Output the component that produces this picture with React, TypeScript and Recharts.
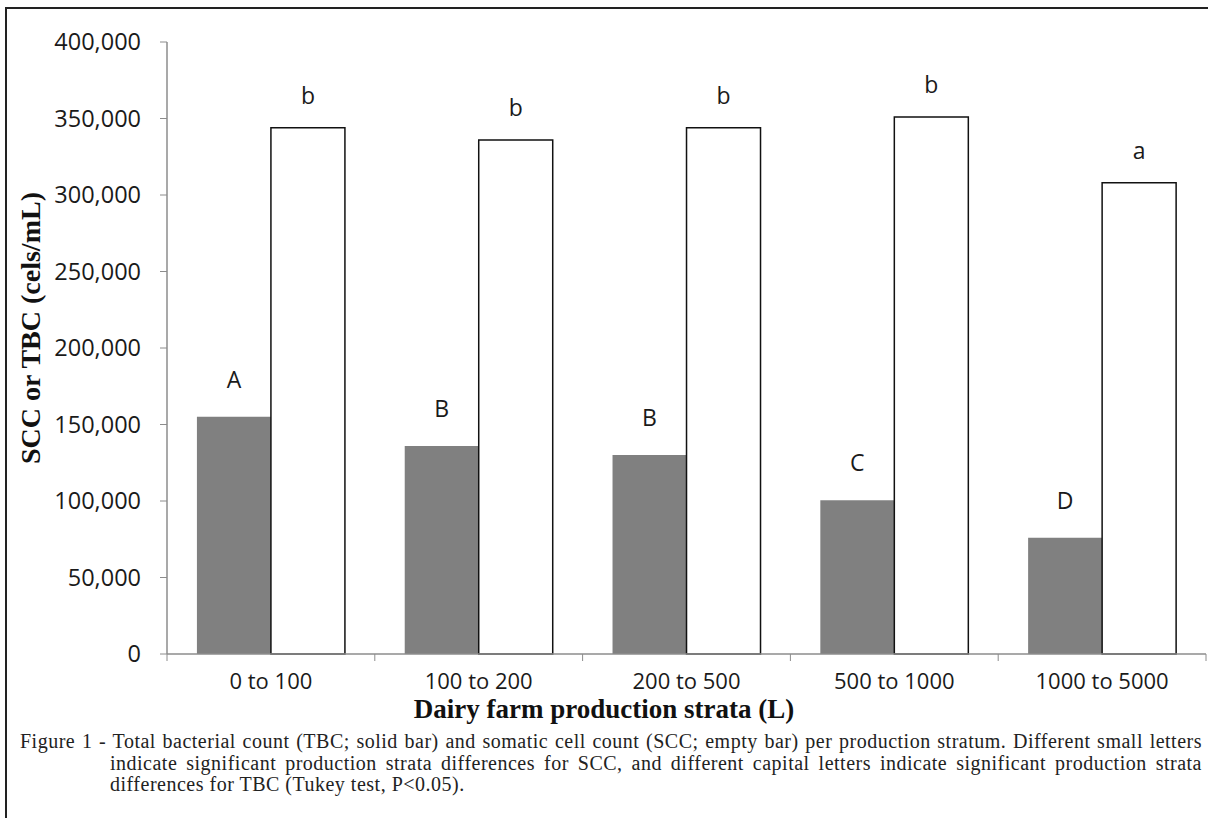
import React from "react";
import { Bar, BarChart, LabelList, XAxis, YAxis } from "recharts";

// strata (L) and mean counts
const strata = ["0 to 100", "100 to 200", "200 to 500", "500 to 1000", "1000 to 5000"];
const tbcValues = [155000, 136000, 130000, 100500, 76000];
const sccValues = [344000, 336000, 344000, 351000, 308000];
const tbcLetters = ["A", "B", "B", "C", "D"];
const sccLetters = ["b", "b", "b", "b", "a"];
const yTicks = [0, 50000, 100000, 150000, 200000, 250000, 300000, 350000, 400000];

const data = strata.map((s, i) => ({
  stratum: s,
  tbc: tbcValues[i],
  scc: sccValues[i],
  tbcLetter: tbcLetters[i],
  sccLetter: sccLetters[i],
}));

const W = 1208;
const H = 700;
const M = { top: 42, right: 2, left: 0, bottom: 0 };
const Y_W = 167;
const X_H = 46;
const PLOT_W = W - M.left - M.right - Y_W;
const PLOT_BOTTOM = H - M.bottom - X_H;
const AXIS = "#8c8c8c";
const SANS = "'Open Sans', sans-serif";
const SERIF = "'Liberation Serif', 'Times New Roman', serif";

// category label plus tick marks on the band edges (Excel style)
function StratumTick(props: any) {
  const { x, payload, index } = props;
  const band = PLOT_W / strata.length;
  const left = x - band / 2;
  const right = x + band / 2;
  return (
    <g>
      <line x1={left} x2={left} y1={PLOT_BOTTOM} y2={PLOT_BOTTOM + 7} stroke={AXIS} />
      {index === strata.length - 1 && (
        <line x1={right} x2={right} y1={PLOT_BOTTOM} y2={PLOT_BOTTOM + 7} stroke={AXIS} />
      )}
      <text
        x={x}
        y={PLOT_BOTTOM + 35}
        textAnchor="middle"
        fontFamily={SANS}
        fontSize={22}
        fill="#1a1a1a"
      >
        {payload.value}
      </text>
    </g>
  );
}

export default function App() {
  return (
    <div
      style={{
        position: "absolute",
        left: 0,
        top: 0,
        width: 1208,
        height: 818,
        background: "#fff",
        overflow: "hidden",
      }}
    >
      <div
        style={{
          position: "absolute",
          left: 5,
          top: 7,
          width: 1220,
          height: 830,
          borderLeft: "2px solid #222",
          borderTop: "2px solid #222",
        }}
      />
      <div style={{ position: "absolute", left: 0, top: 0 }}>
        <BarChart width={W} height={H} data={data} margin={M} barCategoryGap="14.4%" barGap={0}>
          <XAxis
            dataKey="stratum"
            height={X_H}
            axisLine={{ stroke: AXIS, strokeWidth: 1.5 }}
            tickLine={false}
            tick={<StratumTick />}
            interval={0}
          />
          <YAxis
            width={Y_W}
            domain={[0, 400000]}
            ticks={yTicks}
            tickFormatter={(v: number) => v.toLocaleString("en-US")}
            axisLine={{ stroke: AXIS, strokeWidth: 1.5 }}
            tickLine={{ stroke: AXIS }}
            tickSize={7}
            tickMargin={19}
            tick={{ fontFamily: SANS, fontSize: 23.5, fill: "#1a1a1a" }}
          />
          <Bar dataKey="tbc" fill="#808080" isAnimationActive={false}>
            <LabelList
              dataKey="tbcLetter"
              position="top"
              offset={29}
              fill="#1a1a1a"
              fontFamily={SANS}
              fontSize={23}
            />
          </Bar>
          <Bar dataKey="scc" fill="#ffffff" stroke="#111" strokeWidth={1.5} isAnimationActive={false}>
            <LabelList
              dataKey="sccLetter"
              position="top"
              offset={24}
              fill="#1a1a1a"
              fontFamily={SANS}
              fontSize={23}
            />
          </Bar>
        </BarChart>
      </div>

      {/* axis titles */}
      <div
        style={{
          position: "absolute",
          left: 31,
          top: 328,
          transform: "translate(-50%, -50%) rotate(-90deg)",
          whiteSpace: "nowrap",
          fontFamily: SERIF,
          fontWeight: 700,
          fontSize: 28,
          color: "#111",
        }}
      >
        SCC or TBC (cels/mL)
      </div>
      <div
        style={{
          position: "absolute",
          left: 604,
          top: 709,
          transform: "translate(-50%, -50%)",
          whiteSpace: "nowrap",
          fontFamily: SERIF,
          fontWeight: 700,
          fontSize: 27,
          lineHeight: "22px",
          color: "#111",
        }}
      >
        Dairy farm production strata (L)
      </div>

      {/* figure caption */}
      <div
        style={{
          position: "absolute",
          left: 20,
          top: 731,
          width: 1182,
          fontFamily: SERIF,
          fontSize: 20,
          letterSpacing: 0.5,
          lineHeight: "21.5px",
          color: "#222",
        }}
      >
        <div style={{ textAlign: "justify", textAlignLast: "justify", whiteSpace: "nowrap" }}>
          Figure 1 - Total bacterial count (TBC; solid bar) and somatic cell count (SCC; empty bar) per
          production stratum. Different small letters
        </div>
        <div style={{ marginLeft: 90, textAlign: "justify", textAlignLast: "justify", whiteSpace: "nowrap" }}>
          indicate significant production strata differences for SCC, and different capital letters
          indicate significant production strata
        </div>
        <div style={{ marginLeft: 90 }}>differences for TBC (Tukey test, P&lt;0.05).</div>
      </div>
    </div>
  );
}
